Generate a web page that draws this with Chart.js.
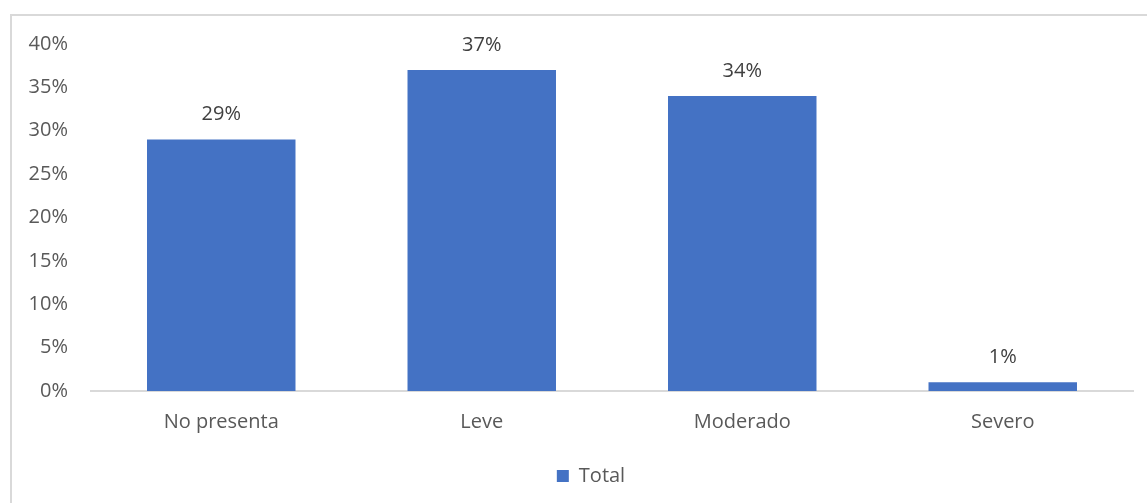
<!DOCTYPE html>
<html>
<head>
<meta charset="utf-8">
<script src="https://cdn.jsdelivr.net/npm/chart.js@4"></script>
<style>
  html, body { margin: 0; padding: 0; background: #ffffff; }
  #frame { position: absolute; left: 10px; top: 14px; width: 1160px; height: 520px; border: 2px solid #d9d9d9; box-sizing: border-box; }
  #wrap { position: absolute; left: 0; top: 0; width: 1147px; height: 503px; }
</style>
</head>
<body>
<div id="frame"></div>
<div id="wrap"><canvas id="c" width="1147" height="503"></canvas></div>
<script>
const categories = ["No presenta", "Leve", "Moderado", "Severo"];
const totalValues = [29, 37, 34, 1];
const seriesName = "Total";
const yTicks = [0, 5, 10, 15, 20, 25, 30, 35, 40];

const FONT = "'Open Sans', sans-serif";
const TEXT = "#595959";

const valueLabels = {
  id: "valueLabels",
  afterDatasetsDraw(chart) {
    const ctx = chart.ctx;
    const meta = chart.getDatasetMeta(0);
    ctx.save();
    ctx.font = "20px " + FONT;
    ctx.fillStyle = "#404040";
    ctx.textAlign = "center";
    ctx.textBaseline = "middle";
    meta.data.forEach((bar, i) => {
      ctx.fillText(totalValues[i] + "%", bar.x, bar.y - 25);
    });
    ctx.restore();
  }
};

// Center the legend under the plot area (as the original does) rather than the whole canvas
const legendShift = {
  id: "legendShift",
  afterLayout(chart) {
    const lg = chart.legend;
    if (!lg) return;
    const ca = chart.chartArea;
    const d = (ca.left + ca.right) / 2 - (lg.left + lg.right) / 2 - 21;
    lg.left += d;
    lg.right += d;
  }
};

new Chart(document.getElementById("c"), {
  type: "bar",
  data: {
    labels: categories,
    datasets: [{
      label: seriesName,
      data: totalValues,
      backgroundColor: "#4472C4",
      borderWidth: 0,
      categoryPercentage: 1.0,
      barPercentage: 0.57
    }]
  },
  options: {
    responsive: false,
    animation: false,
    layout: { padding: { top: 44, right: 14, bottom: 7, left: 0 } },
    plugins: {
      tooltip: { enabled: false },
      legend: {
        position: "bottom",
        labels: {
          font: { family: FONT, size: 20 },
          color: TEXT,
          boxWidth: 12,
          boxHeight: 12,
          padding: 8
        }
      }
    },
    scales: {
      y: {
        min: 0,
        max: 40,
        afterBuildTicks(scale) { scale.ticks = yTicks.map(v => ({ value: v })); },
        afterFit(scale) { scale.width = 91; },
        grid: { display: false, drawTicks: false },
        border: { display: false },
        ticks: {
          padding: 23,
          color: TEXT,
          font: { family: FONT, size: 20 },
          callback: v => v + "%"
        }
      },
      x: {
        afterFit(scale) { scale.height = 67; },
        grid: { display: false, drawTicks: false },
        border: { display: true, color: "#d9d9d9", width: 2 },
        ticks: {
          padding: 19,
          color: TEXT,
          font: { family: FONT, size: 20 }
        }
      }
    }
  },
  plugins: [valueLabels, legendShift]
});
</script>
</body>
</html>
